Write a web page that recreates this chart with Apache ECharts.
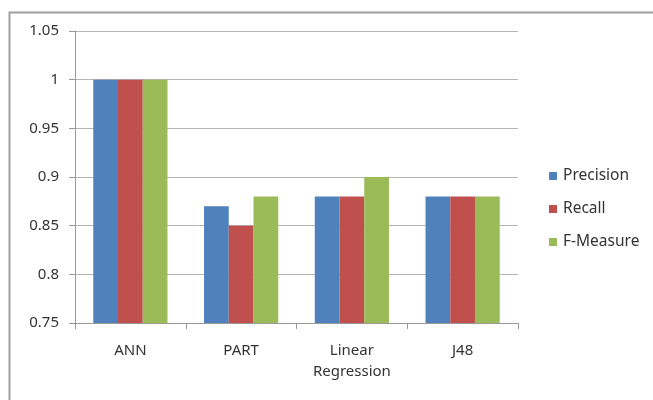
<!DOCTYPE html>
<html><head><meta charset="utf-8">
<script src="https://cdn.jsdelivr.net/npm/echarts@6/dist/echarts.min.js"></script>
<style>html,body{margin:0;padding:0;background:#fff}#c{width:653px;height:400px}</style>
</head><body><div id="c"></div>
<script>
const categories = ['ANN', 'PART', 'Linear\nRegression', 'J48'];
const precision = [1.0, 0.87, 0.88, 0.88];
const recall = [1.0, 0.85, 0.88, 0.88];
const fMeasure = [1.0, 0.88, 0.90, 0.88];
const seriesNames = ['Precision', 'Recall', 'F-Measure'];
const colors = ['#4F81BD', '#C0504D', '#9BBB59'];

const chart = echarts.init(document.getElementById('c'));
const font = 'Noto Sans';
chart.setOption({
  animation: false,
  backgroundColor: '#fff',
  textStyle: { fontFamily: font },
  graphic: [{
    type: 'rect', left: 7, top: 10, shape: { width: 700, height: 500 },
    style: { fill: 'none', stroke: '#a0a0a0', lineWidth: 2 }, z: -1
  }],
  grid: { left: 75, right: 135, top: 31, bottom: 77 },
  legend: {
    orient: 'vertical', left: 544, top: 163, itemWidth: 8, itemHeight: 8, itemGap: 17,
    icon: 'rect', itemStyle: { borderWidth: 0 },
    textStyle: { fontSize: 15.5, color: '#333', fontFamily: font, padding: [0, 0, 0, 1] },
    data: seriesNames
  },
  xAxis: {
    type: 'category', data: categories,
    axisLine: { lineStyle: { color: '#999' } },
    axisTick: { show: true, length: 6, lineStyle: { color: '#999' } },
    axisLabel: { color: '#333', fontSize: 15, fontFamily: font, margin: 17, lineHeight: 21 }
  },
  yAxis: {
    type: 'value', min: 0.75, max: 1.05, interval: 0.05,
    axisLine: { show: true, lineStyle: { color: '#999' } },
    axisTick: { show: true, length: 6, lineStyle: { color: '#999' } },
    splitLine: { lineStyle: { color: '#b5b5b5' } },
    axisLabel: { color: '#333', fontSize: 15, fontFamily: font, margin: 16,
      formatter: v => String(parseFloat(v.toFixed(2))) }
  },
  series: [
    { name: seriesNames[0], type: 'bar', data: precision, itemStyle: { color: colors[0] }, barGap: '0%', barCategoryGap: '33%' },
    { name: seriesNames[1], type: 'bar', data: recall, itemStyle: { color: colors[1] }, barGap: '0%', barCategoryGap: '33%' },
    { name: seriesNames[2], type: 'bar', data: fMeasure, itemStyle: { color: colors[2] }, barGap: '0%', barCategoryGap: '33%' }
  ]
});
</script></body></html>
